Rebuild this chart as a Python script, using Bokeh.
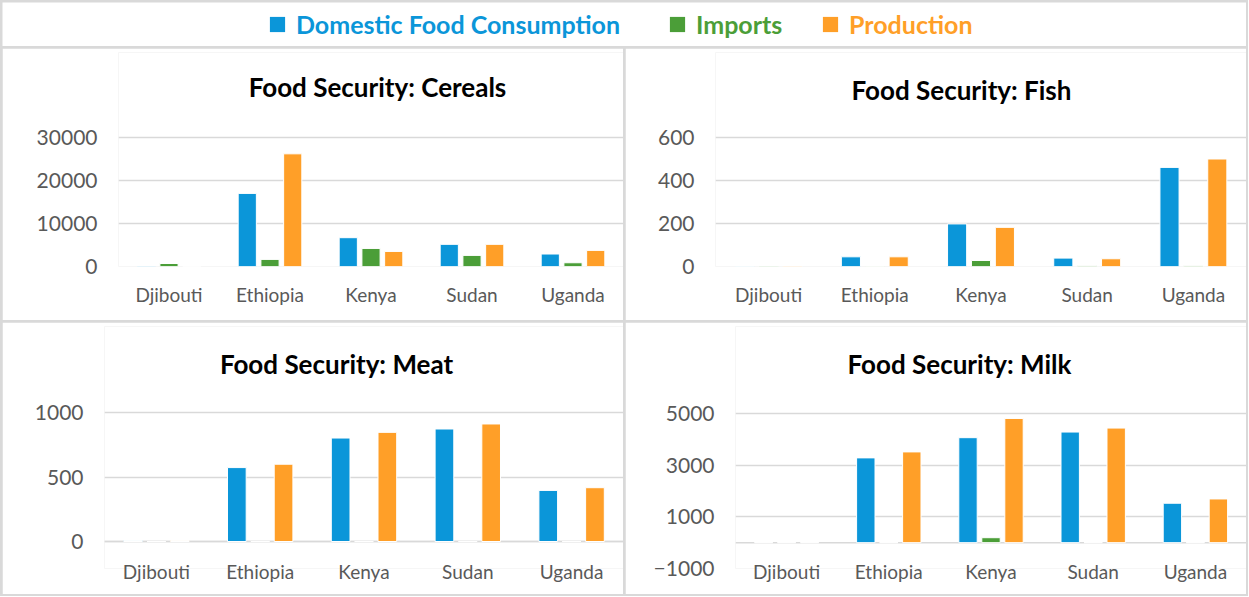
from bokeh.plotting import figure
from bokeh.models import (FactorRange, Range1d, FixedTicker, ColumnDataSource,
                          Legend, LegendItem, Span, Label)
from bokeh.transform import dodge
from bokeh.layouts import column, row
from bokeh.embed import file_html
from bokeh.resources import INLINE

# ---------------- data ----------------
countries = ["Djibouti", "Ethiopia", "Kenya", "Sudan", "Uganda"]
series_names = ["Domestic Food Consumption", "Imports", "Production"]

cereals_consumption = [100, 17000, 6700, 5150, 2900]
cereals_imports = [700, 1650, 4200, 2580, 870]
cereals_production = [0, 26200, 3500, 5150, 3750]

fish_consumption = [1, 45, 198, 39, 461]
fish_imports = [2, 1, 28, 4, 4]
fish_production = [2, 45, 182, 36, 500]

meat_consumption = [8, 573, 802, 872, 396]
meat_imports = [0, 0, 0, 0, 0]
meat_production = [8, 599, 846, 911, 417]

milk_consumption = [0, 3282, 4064, 4282, 1526]
milk_imports = [0, 0, 192, 0, 0]
milk_production = [0, 3513, 4808, 4436, 1692]

cereals_ticks = [0, 10000, 20000, 30000]
fish_ticks = [0, 200, 400, 600]
meat_ticks = [0, 500, 1000]
milk_ticks = [-1000, 1000, 3000, 5000]

# ---------------- style ----------------
COLORS = ["#0B96D9", "#4B9E38", "#FF9F28"]
GRID = "#d9d9d9"
TICK_TXT = "#595959"
FONT = "Lato"
FRAME_TOP = 4


def panel(title, cons, imp, prod, ticks, w, h, left, frame_bottom,
          low_px, top_px, title_x, title_y, xlabel_standoff, zero_line=False):
    # low tick (first tick) sits at low_px, top tick at top_px (pixels from panel top)
    lo, hi = ticks[0], ticks[-1]
    per_px = (hi - lo) / (low_px - top_px)
    y_start = lo - (frame_bottom - low_px) * per_px
    y_end = hi + (top_px - FRAME_TOP) * per_px
    p = figure(x_range=FactorRange(*countries), y_range=Range1d(y_start, y_end),
               width=w, height=h, output_backend="svg", toolbar_location=None,
               min_border_left=left, min_border_right=0,
               min_border_top=FRAME_TOP, min_border_bottom=h - frame_bottom)
    p.outline_line_color = None
    p.background_fill_color = "white"
    p.border_fill_color = "white"
    src = ColumnDataSource(dict(country=countries, a=cons, b=imp, c=prod))
    for col, off, color in zip(["a", "b", "c"], [-0.225, 0.0, 0.225], COLORS):
        p.vbar(x=dodge("country", off, range=p.x_range), top=col, bottom=0,
               width=0.18, source=src, fill_color=color, line_color="white",
               line_width=1)
    if zero_line:
        p.add_layout(Span(location=0, dimension="width", line_color=GRID,
                          line_width=1.5, level="underlay"))
    p.yaxis.ticker = FixedTicker(ticks=ticks)
    p.ygrid.ticker = FixedTicker(ticks=ticks)
    p.ygrid.grid_line_color = GRID
    p.ygrid.grid_line_width = 1.5
    p.xgrid.grid_line_color = None
    for ax in (p.xaxis[0], p.yaxis[0]):
        ax.axis_line_color = None
        ax.major_tick_line_color = None
        ax.minor_tick_line_color = None
        ax.major_tick_out = 0
        ax.major_tick_in = 0
        ax.major_label_text_font = FONT
        ax.major_label_text_color = TICK_TXT
    p.yaxis.major_label_text_font_size = "21px"
    p.yaxis.major_label_standoff = 21
    p.xaxis.major_label_text_font_size = "19px"
    p.xaxis.major_label_standoff = xlabel_standoff
    p.add_layout(Label(x=title_x, y=frame_bottom - title_y, x_units="screen",
                       y_units="screen", text=title, text_align="center",
                       text_baseline="middle", text_font=FONT,
                       text_font_style="bold", text_font_size="26px",
                       text_color="black"))
    return p


# panels: width 621 each, height 272 each
p1 = panel("Food Security: Cereals", cereals_consumption, cereals_imports,
           cereals_production, cereals_ticks, 621, 272, 116,
           218, 218, 89, 259, 38, 16)
p2 = panel("Food Security: Fish", fish_consumption, fish_imports,
           fish_production, fish_ticks, 621, 272, 90,
           218, 218, 89, 246, 41, 16)
p3 = panel("Food Security: Meat", meat_consumption, meat_imports,
           meat_production, meat_ticks, 621, 272, 102,
           246, 219, 90, 232, 41, -9, zero_line=True)
p4 = panel("Food Security: Milk", milk_consumption, milk_imports,
           milk_production, milk_ticks, 621, 272, 110,
           246, 246, 91, 224, 41, -9, zero_line=True)

# ---------------- legend strip ----------------
lg = figure(width=1244, height=44, output_backend="svg", toolbar_location=None,
            x_range=Range1d(0, 1), y_range=Range1d(0, 1),
            min_border=0, min_border_left=0, min_border_right=0,
            min_border_top=0, min_border_bottom=0)
lg.axis.visible = False
lg.grid.visible = False
lg.outline_line_color = None
lg.border_fill_color = "white"
offscreen = ColumnDataSource(dict(x=[-10], y=[-10]))
for name, color, xpos in zip(series_names, COLORS, [256, 656, 809]):
    r = lg.scatter(x="x", y="y", marker="square", size=15, source=offscreen,
                   fill_color=color, line_color=None)
    leg = Legend(items=[LegendItem(label=name, renderers=[r])],
                 location=(xpos, 3), border_line_color=None,
                 background_fill_alpha=0, padding=0, margin=0,
                 glyph_width=38, glyph_height=38, label_standoff=0,
                 label_text_font=FONT, label_text_font_style="bold",
                 label_text_font_size="25px", label_text_color=color)
    lg.add_layout(leg, "center")

top_row = row(p1, p2, spacing=2)
bottom_row = row(p3, p4, spacing=2)
page = column(lg, top_row, bottom_row, spacing=2,
              styles={"background-color": GRID, "padding": "2px"})

open("out.html", "w").write(file_html(page, INLINE))
